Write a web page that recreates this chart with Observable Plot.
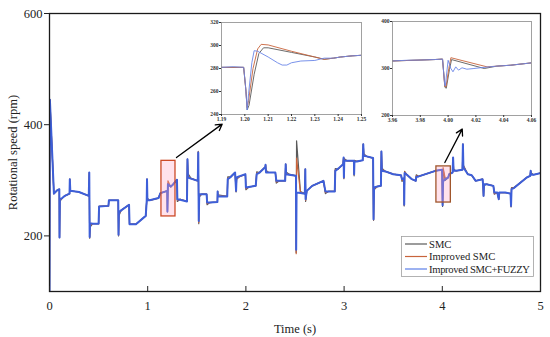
<!DOCTYPE html>
<html><head><meta charset="utf-8">
<script src="https://cdn.jsdelivr.net/npm/d3@7"></script>
<script src="https://cdn.jsdelivr.net/npm/@observablehq/plot@0.6"></script>
<style>
body{margin:0;background:#fff;}
#wrap{position:relative;width:550px;height:337px;font-family:"Liberation Serif","Times New Roman",serif;}
#wrap > svg{position:absolute;overflow:visible;}
</style></head><body><div id="wrap"></div>
<script>
// ---- main series (time in s, speed in rpm) ----
const timeMain = [
0,0.004,0.045,0.078,0.100,0.102,0.106,0.13,0.156,0.204,
0.207,0.212,0.30,0.40,0.405,0.409,0.413,0.44,0.50,0.505,
0.60,0.605,0.70,0.703,0.707,0.73,0.81,0.815,0.88,0.98,
0.99,0.993,0.997,1.02,1.11,1.13,1.199,1.201,1.206,1.234,
1.25,1.298,1.302,1.33,1.40,1.405,1.41,1.44,1.51,1.515,
1.52,1.525,1.55,1.60,1.605,1.63,1.71,1.712,1.715,1.81,
1.815,1.84,1.89,1.90,1.905,1.93,1.995,2.00,2.03,2.10,
2.11,2.14,2.198,2.20,2.205,2.23,2.30,2.31,2.34,2.40,
2.405,2.41,2.44,2.51,2.512,2.516,2.555,2.60,2.605,2.608,
2.62,2.675,2.79,2.81,2.84,2.905,2.91,2.94,2.99,2.995,
2.998,3.002,3.03,3.10,3.102,3.105,3.13,3.19,3.195,3.20,
3.23,3.295,3.30,3.305,3.34,3.375,3.38,3.385,3.42,3.50,
3.58,3.59,3.61,3.612,3.616,3.64,3.69,3.73,3.735,3.76,
3.93,3.998,4.003,4.008,4.03,4.06,4.07,4.105,4.11,4.115,
4.14,4.205,4.21,4.215,4.26,4.30,4.34,4.41,4.415,4.42,
4.425,4.45,4.52,4.53,4.56,4.575,4.58,4.64,4.695,4.70,
4.705,4.73,4.86,4.895,4.90,4.905,4.93,5.00];
const smcMain = [
100,445,276,282,284,197,262,268,272,276,
302,281,279,272,314,196,216,222,222,253,
254,264,264,200,236,246,256,221,221,236,
263,302,268,264,268,277,281,243,294,288,
291,301,262,266,262,338,312,304,299,352,
222,270,275,275,256,260,261,280,274,271,
306,306,314,279,302,306,311,283,288,290,
315,314,324,328,318,314,314,295,299,299,
329,315,311,308,170,371,280,276,320,262,
281,290,299,276,280,280,321,320,329,341,
303,339,335,335,308,336,334,336,365,348,
343,340,228,283,289,290,352,322,316,311,
309,298,302,254,316,310,302,299,310,307,
317,319,253,319,300,305,311,314,341,320,
317,319,365,327,311,309,299,302,290,272,
290,293,290,275,278,266,278,278,276,252,
287,287,305,308,317,313,310,313];
const improvedMain = [
100,445,276,282,284,197,264,268,272,276,
302,281,279,272,314,197,219,222,222,253,
254,264,264,201,239,246,256,221,221,236,
263,302,266,264,268,277,281,246,299,288,
291,301,264,266,262,338,308,303,299,351,
224,272,275,275,258,260,261,280,272,271,
304,305,314,280,303,306,311,285,288,290,
313,314,324,328,316,314,314,297,299,299,
329,313,310,308,168,340,279,276,320,264,
281,290,299,278,280,280,319,320,329,341,
304,337,335,335,310,334,334,336,365,346,
343,340,229,285,289,290,352,320,316,311,
309,300,303,255,315,310,302,299,308,307,
317,319,255,323,303,305,311,314,341,318,
317,319,365,325,311,309,299,302,291,272,
292,293,290,276,278,266,278,278,276,253,
286,286,305,308,317,311,310,313];
const fuzzyMain = [
100,445,276,282,284,197,266,268,272,276,
302,281,279,272,314,198,223,222,222,253,
254,264,264,202,242,246,256,221,221,236,
263,302,264,264,268,277,281,244,293,289,
291,301,266,265,262,338,305,303,299,350,
227,275,275,275,260,260,261,280,271,271,
302,305,314,281,305,307,311,287,288,290,
311,314,324,328,314,314,314,299,299,299,
329,311,310,308,175,278,277,276,320,266,
281,290,299,280,280,280,317,321,329,341,
305,335,335,335,311,333,334,336,365,344,
343,340,230,287,289,290,352,317,316,311,
309,302,304,256,313,310,302,299,306,307,
317,319,255,298,302,305,311,314,341,317,
317,319,365,323,311,309,299,302,293,272,
293,293,290,278,278,266,278,278,276,254,
284,286,305,308,317,310,310,313];

// ---- inset 1 (1.19 - 1.25 s) ----
const in1SmcT = [1.19,1.1995,1.2005,1.201,1.2018,1.204,1.206,1.208,1.21,1.22,1.23,1.234,1.238,1.241,1.246,1.25];
const in1SmcV = [281,281,260,244,248,275,293,298,298,294,290,288,289,290,291,291.5];
const in1ImpT = [1.19,1.1995,1.2004,1.201,1.2016,1.2035,1.2055,1.207,1.21,1.22,1.23,1.234,1.238,1.241,1.246,1.25];
const in1ImpV = [281,281,262,246,252,280,297,301,300.5,295,290,288,289,290,291,291.5];
const in1FzT = [1.19,1.195,1.1995,1.2003,1.201,1.2016,1.203,1.204,1.2055,1.21,1.214,1.216,1.218,1.22,1.224,1.23,1.234,1.238,1.241,1.246,1.25];
const in1FzV = [281,281.5,281,265,244,258,285,295.5,295,290,285,283,283,285,286.5,287,289,289,290,291,291.5];
const in1XTicks = [1.19,1.20,1.21,1.22,1.23,1.24,1.25];
const in1YTicks = [240,260,280,300,320];

// ---- inset 2 (3.96 - 4.06 s) ----
const in2SmcT = [3.96,3.99,3.996,3.9977,3.9987,4.001,4.0025,4.026,4.035,4.045,4.06];
const in2SmcV = [316,319,320,260,258,298,319,300,305,307,312];
const in2ImpT = [3.96,3.99,3.996,3.9976,3.9985,4.0005,4.002,4.028,4.035,4.045,4.06];
const in2ImpV = [316,319,320,262,261,300,323,303.5,305,307,312];
const in2FzT = [3.96,3.97,3.98,3.99,3.996,3.9976,3.998,4.0,4.002,4.0035,4.0055,4.0075,4.01,4.0135,4.0186,4.023,4.028,4.035,4.045,4.06];
const in2FzV = [316,317.5,318,319,320,265,263,317.5,300,293,303.5,296.5,301.5,298.5,300,301.5,303,305,307,312];
const in2XTicks = [3.96,3.98,4.00,4.02,4.04,4.06];
const in2YTicks = [200,300,400];

// ---- axes, annotations ----
const xTicks = [0,1,2,3,4,5];
const yTicks = [200,400,600];
const seriesNames = ["SMC","Improved SMC","Improved SMC+FUZZY"];
const seriesColors = ["#5a5a5a","#c8643c","#3d5fd9"];
const boxX1 = [1.14, 3.94], boxX2 = [1.283, 4.087], boxY1 = [235, 260], boxY2 = [335, 325];
const boxStroke = ["#cc4a26", "#a0562c"];
const arrowX1 = [1.293, 4.026], arrowY1 = [341, 332], arrowX2 = [1.758, 4.203], arrowY2 = [401, 392];

const mainRows = timeMain.map((t,i)=>({t, smc:smcMain[i], imp:improvedMain[i], fz:fuzzyMain[i]}));
const boxes = boxX1.map((d,i)=>({x1:d, x2:boxX2[i], y1:boxY1[i], y2:boxY2[i], c:boxStroke[i]}));
const arrows = arrowX1.map((d,i)=>({x1:d, y1:arrowY1[i], x2:arrowX2[i], y2:arrowY2[i]}));
const pairs = (T,V)=>T.map((t,i)=>({t, v:V[i]}));

const wrap = document.getElementById("wrap");
const font = "Liberation Serif, Times New Roman, serif";

const main = Plot.plot({
  width:550, height:337, marginLeft:49, marginRight:10, marginTop:13, marginBottom:46,
  style:{fontFamily:font, fontSize:"12.5px", background:"transparent", color:"#222"},
  x:{domain:[0,5]}, y:{domain:[100,600]}, color:{type:"identity"},
  marks:[
    Plot.line(mainRows, {x:"t", y:"smc", stroke:seriesColors[0], strokeWidth:1.2, clip:true}),
    Plot.line(mainRows, {x:"t", y:"imp", stroke:seriesColors[1], strokeWidth:1.2, clip:true}),
    Plot.line(mainRows, {x:"t", y:"fz", stroke:seriesColors[2], strokeWidth:2, clip:true}),
    Plot.rect(boxes, {x1:"x1", x2:"x2", y1:"y1", y2:"y2", fill:"#ff9fc0", fillOpacity:0.3, stroke:"c", strokeWidth:1.3}),
    Plot.arrow(arrows, {x1:"x1", y1:"y1", x2:"x2", y2:"y2", stroke:"#000", strokeWidth:1.3, headLength:8}),
    Plot.frame({stroke:"#1a1a1a", strokeWidth:1.3}),
    Plot.axisX({ticks:xTicks, tickSize:-5, tickPadding:15, tickFormat:d=>String(d), label:"Time (s)", labelAnchor:"center", labelArrow:"none", labelOffset:41}),
    Plot.axisY({ticks:yTicks, tickSize:5, tickPadding:2, label:"Rotational speed (rpm)", labelAnchor:"center", labelArrow:"none", labelOffset:41})
  ]
});
main.style.left = "0px"; main.style.top = "0px";
wrap.appendChild(main);

function inset(xd, yd, xt, yt, smc, imp, fz, geom) {
  const p = Plot.plot({
    width:geom.w, height:geom.h, marginLeft:geom.ml, marginRight:geom.mr, marginTop:geom.mt, marginBottom:geom.mb,
    style:{fontFamily:font, fontSize:"5.5px", fontWeight:"bold", background:"transparent", color:"#333"},
    x:{domain:xd}, y:{domain:yd},
    marks:[
      Plot.frame({fill:"#fff", stroke:"none"}),
      Plot.line(smc, {x:"t", y:"v", stroke:seriesColors[0], strokeWidth:0.9, clip:true}),
      Plot.line(imp, {x:"t", y:"v", stroke:seriesColors[1], strokeWidth:0.9, clip:true}),
      Plot.line(fz, {x:"t", y:"v", stroke:"#6a86e8", strokeWidth:0.9, clip:true}),
      Plot.frame({stroke:"#8a8a8a", strokeWidth:0.8}),
      Plot.axisX({ticks:xt, tickSize:2, tickPadding:1, tickFormat:d3.format(".2f"), label:null}),
      Plot.axisY({ticks:yt, tickSize:2, tickPadding:1, tickFormat:d3.format("d"), label:null})
    ]
  });
  p.style.left = geom.left + "px"; p.style.top = geom.top + "px";
  wrap.appendChild(p);
}
inset([1.19,1.25],[240,320],in1XTicks,in1YTicks,pairs(in1SmcT,in1SmcV),pairs(in1ImpT,in1ImpV),pairs(in1FzT,in1FzV),
  {w:168,h:108,ml:22,mr:6,mt:4,mb:12,left:199,top:18});
inset([3.96,4.06],[200,400],in2XTicks,in2YTicks,pairs(in2SmcT,in2SmcV),pairs(in2ImpT,in2ImpV),pairs(in2FzT,in2FzV),
  {w:161,h:110,ml:16,mr:6,mt:4,mb:12,left:376,top:17});

// legend
const lg = d3.select(wrap).append("svg").attr("width",550).attr("height",337).style("left","0px").style("top","0px");
lg.append("rect").attr("x",401.5).attr("y",236.5).attr("width",132).attr("height",40)
  .attr("fill","#fff").attr("stroke","#a0a0a0").attr("stroke-width",0.8);
seriesNames.forEach((n,i)=>{
  const y = 244 + i*12.5;
  lg.append("line").attr("x1",405).attr("x2",427).attr("y1",y).attr("y2",y)
    .attr("stroke", i===2 ? "#5d7fe8" : seriesColors[i]).attr("stroke-width",1.2);
  lg.append("text").attr("x",429).attr("y",y).attr("dy","0.35em")
    .attr("font-family",font).attr("font-size",10.6).attr("fill","#222")
    .attr("textLength", i===2 ? 101 : null).text(n);
});
</script></body></html>
